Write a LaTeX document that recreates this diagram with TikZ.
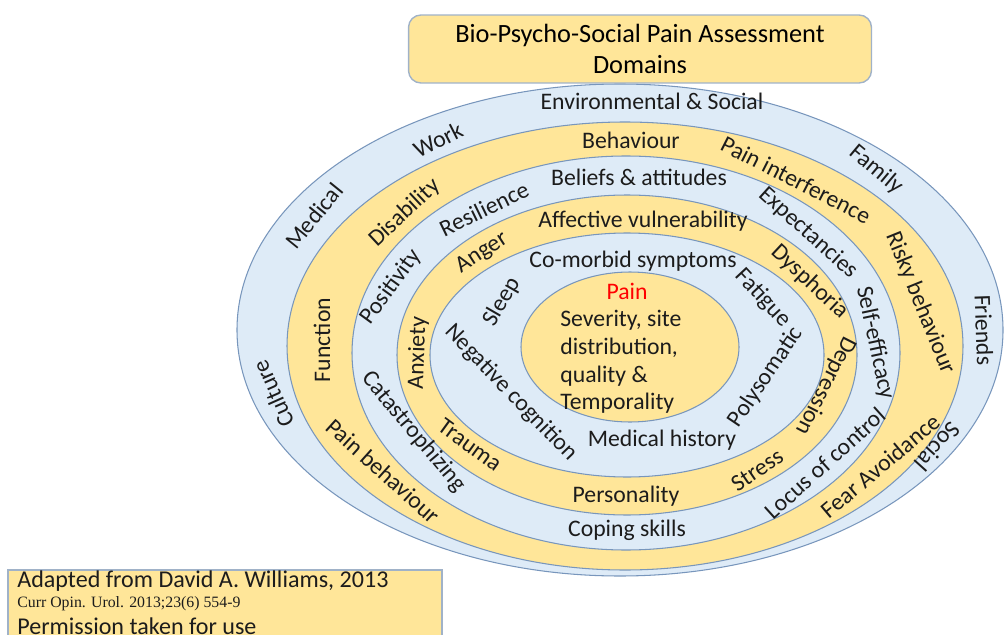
\documentclass[tikz,border=0pt]{standalone}
\usepackage{fontspec}
\setmainfont{Carlito}
\newfontfamily\citefont{Liberation Serif}
\usepackage{xcolor}
\definecolor{gold}{RGB}{255,230,153}
\definecolor{sky}{RGB}{222,235,247}
\definecolor{rim}{RGB}{120,150,188}
\definecolor{boxrim}{RGB}{160,178,200}
\definecolor{ink}{RGB}{28,28,28}
\tikzstyle{ring} = [draw=rim, line width=0.6pt]
\tikzstyle{lbl} = [text=ink, inner sep=0pt, font=\fontsize{13.5}{16}\selectfont]
\tikzstyle{titlebox} = [draw=boxrim, fill=gold, line width=0.8pt, rounded corners=7pt,
    rectangle, minimum width=9.26cm, minimum height=1.36cm, align=center,
    font=\fontsize{15}{18}\selectfont]
\tikzstyle{notebox} = [draw=boxrim, fill=gold, line width=0.8pt]

\begin{document}
\begin{tikzpicture}[x=0.02cm, y=-0.02cm]
\useasboundingbox (0,0) rectangle (1004,635);
\clip (0,0) rectangle (1004,635);

% the six domain rings, outside in
\foreach \cx/\cy/\rx/\ry/\col in {620/330/383/246/sky, 625/346/338/224/gold,
    626/353/274/197/sky, 627/355/230/160/gold, 627/355/197/122/sky, 630/347/109/75/gold}
  \draw[ring, fill=\col] (\cx,\cy) ellipse [x radius=\rx, y radius=\ry];

\node[titlebox] (title) at (640,49) {Bio-Psycho-Social Pain Assessment\\Domains};

% environmental & social
\node[lbl] (env) at (652,101) {Environmental \& Social};
\node[lbl, rotate=27] (work) at (438,140) {Work};
\node[lbl, rotate=51] (medical) at (314,216) {Medical};
\node[lbl, rotate=114] (culture) at (273,394) {Culture};
\node[lbl, rotate=-40] (family) at (876,170) {Family};
\node[lbl, rotate=-88] (friends) at (984,330) {Friends};
\node[lbl, rotate=-132] (social) at (938,447) {Social};

% behaviour
\node[lbl] (behaviour) at (631,140) {Behaviour};
\node[lbl, rotate=-27] (interference) at (796,180) {Pain interference};
\node[lbl, rotate=-68] (risky) at (920,303) {Risky behaviour};
\node[lbl, rotate=40] (fear) at (880,466) {Fear Avoidance};
\node[lbl, rotate=-42] (painbeh) at (383,471) {Pain behaviour};
\node[lbl, rotate=90] (function) at (322,340) {Function};
\node[lbl, rotate=43] (disability) at (405,213) {Disability};

% beliefs & attitudes
\node[lbl] (beliefs) at (639,177) {Beliefs \& attitudes};
\node[lbl, rotate=26] (resilience) at (484,209) {Resilience};
\node[lbl, rotate=54] (positivity) at (391,287) {Positivity};
\node[lbl, rotate=-50] (catastro) at (414,432) {Catastrophizing};
\node[lbl] (coping) at (627,530) {Coping skills};
\node[lbl, rotate=42] (locus) at (825,463) {Locus of control};
\node[lbl, rotate=-78] (selfeff) at (875,343) {Self-efficacy};
\node[lbl, rotate=-42] (expect) at (808,233) {Expectancies};

% affective vulnerability
\node[lbl] (affective) at (643,221) {Affective vulnerability};
\node[lbl, rotate=33] (anger) at (482,253) {Anger};
\node[lbl, rotate=88] (anxiety) at (418,353) {Anxiety};
\node[lbl, rotate=-36] (trauma) at (470,445) {Trauma};
\node[lbl] (personality) at (626,496) {Personality};
\node[lbl, rotate=34] (stress) at (757,470) {Stress};
\node[lbl, rotate=-117] (depression) at (826,386) {Depression};
\node[lbl, rotate=-43] (dysphoria) at (810,282) {Dysphoria};

% co-morbid symptoms
\node[lbl] (comorbid) at (633,261) {Co-morbid symptoms};
\node[lbl, rotate=60] (sleep) at (502,302) {Sleep};
\node[lbl, rotate=-46] (negcog) at (511,393) {Negative cognition};
\node[lbl] (medhist) at (662,440) {Medical history};
\node[lbl, rotate=56] (polysom) at (766,377) {Polysomatic};
\node[lbl, rotate=-47] (fatigue) at (763,298) {Fatigue};

% pain core
\node[lbl, text=red] (pain) at (627,291) {Pain};
\node[lbl, anchor=west, align=left, font=\fontsize{13.5}{15.7}\selectfont] (core) at (560,362)
    {Severity, site\\distribution,\\quality \&\\Temporality};

% source note
\draw[notebox] (8,570) rectangle (442,660);
\node[lbl, anchor=west, font=\fontsize{13.7}{16}\selectfont] (credit) at (17,581)
    {Adapted from David A. Williams, 2013};
\node[lbl, anchor=west, font=\citefont\fontsize{9}{10}\selectfont] (cite) at (17,604)
    {Curr Opin. Urol. 2013;23(6) 554-9};
\node[lbl, anchor=west, font=\fontsize{13.7}{16}\selectfont] (perm) at (17,626)
    {Permission taken for use};
\end{tikzpicture}
\end{document}
